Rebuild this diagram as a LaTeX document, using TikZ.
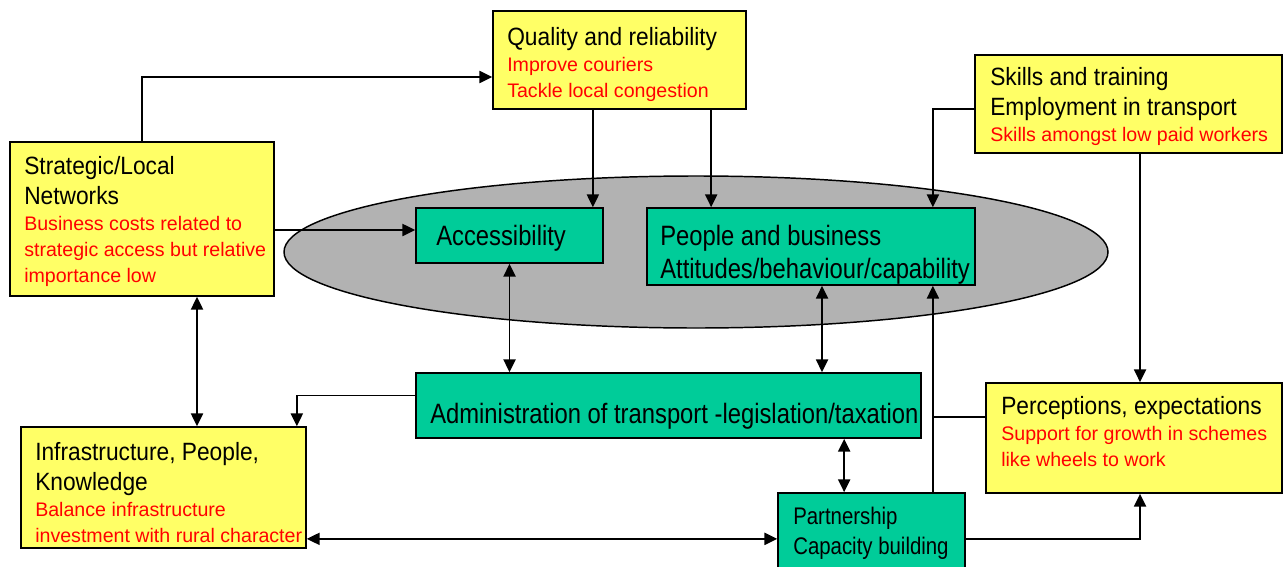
\documentclass[tikz,border=0pt]{standalone}
\usepackage{fontspec}
\setmainfont{Liberation Sans}
\newfontfamily\headfont{Liberation Sans}[FakeStretch=0.91]
\newfontfamily\cellfont{Liberation Sans}[FakeStretch=0.85]
\definecolor{boxyellow}{RGB}{255,255,102}
\definecolor{boxgreen}{RGB}{0,204,153}
\definecolor{hubgray}{RGB}{178,178,178}
\definecolor{notered}{RGB}{255,0,0}
\usetikzlibrary{arrows.meta,positioning,calc,shapes.geometric}
\newcommand\headtxt{\headfont\fontsize{18.75pt}{22.5pt}\selectfont}
\newcommand\notetxt{\normalfont\color{notered}\fontsize{14.7pt}{19.5pt}\selectfont}
\newcommand\celltxt{\cellfont\fontsize{21pt}{24.75pt}\selectfont}
\newcommand\smalltxt{\cellfont\fontsize{18pt}{22.5pt}\selectfont}
\tikzset{
  boxsize/.style 2 args={minimum width=#1*0.75pt,minimum height=#2*0.75pt},
  ybox/.style={draw,line width=1.3pt,fill=boxyellow,inner sep=0pt},
  gbox/.style={draw,line width=1.3pt,fill=boxgreen,inner sep=0pt},
  hub/.style={ellipse,draw,line width=1.1pt,fill=hubgray,inner sep=0pt},
  txt/.style={inner sep=0pt,align=left,anchor=north west,font=\headtxt},
  conn/.style={-{Triangle[length=9.5pt,width=9pt]},line width=1.4pt},
  dconn/.style={{Triangle[length=9.5pt,width=9pt]}-{Triangle[length=9.5pt,width=9pt]},line width=1.4pt},
  link/.style={line width=1.4pt},
}
\begin{document}
\begin{tikzpicture}[x=0.75pt,y=-0.75pt]
  \useasboundingbox (0,0) rectangle (1284,567);
  % central ellipse
  \node[hub,boxsize={824}{152}] (core) at (696,252) {};
  % yellow boxes
  \node[ybox,boxsize={253}{98}]  (qual)   at (619.5,60)   {};
  \node[ybox,boxsize={264}{154}] (strat)  at (142,219)    {};
  \node[ybox,boxsize={307}{98}]  (skills) at (1128.5,104) {};
  \node[ybox,boxsize={285}{121}] (infra)  at (163.5,487.5) {};
  \node[ybox,boxsize={296}{110}] (perc)   at (1134,438)   {};
  % green boxes
  \node[gbox,boxsize={187}{55}]  (acc)  at (509.5,235.5) {};
  \node[gbox,boxsize={328}{77}]  (ppl)  at (811,246.5)   {};
  \node[gbox,boxsize={505}{65}]  (adm)  at (668.5,405.5) {};
  \node[gbox,boxsize={187}{92}]  (part) at (871.5,539)   {};

  % texts
  \node[txt] (qualtxt) at (507,27) {\headtxt Quality and reliability\\[-3pt]
    \notetxt Improve couriers\\[-3pt] \notetxt Tackle local congestion};
  \node[txt] (strattxt) at (24,156) {\headtxt Strategic/Local\\ \headtxt Networks\\[-3pt]
    \notetxt Business costs related to\\[-3pt] \notetxt strategic access but relative\\[-3pt]
    \notetxt importance low};
  \node[txt] (skillstxt) at (990,67) {\headtxt Skills and training\\
    \headtxt Employment in transport\\[-3pt] \notetxt Skills amongst low paid workers};
  \node[txt] (infratxt) at (35,442) {\headtxt Infrastructure, People,\\ \headtxt Knowledge\\[-3pt]
    \notetxt Balance infrastructure\\[-3pt] \notetxt investment with rural character};
  \node[txt] (perctxt) at (1001,396) {\headtxt Perceptions, expectations\\[-3pt]
    \notetxt Support for growth in schemes\\[-3pt] \notetxt like wheels to work};
  \node[txt,font=\celltxt] (acctxt) at (436,225) {\celltxt Accessibility};
  \node[txt,font=\celltxt] (ppltxt) at (660,225) {\celltxt People and business\\
    \celltxt Attitudes/behaviour/capability};
  \node[txt,font=\celltxt] (admtxt) at (430,403) {\celltxt Administration of transport -legislation/taxation};
  \node[txt,font=\smalltxt] (parttxt) at (793,506.5) {\smalltxt Partnership\\ \smalltxt Capacity building};

  % connector ends
  \coordinate (qualin) at ($(qual.west)+(0,17)$);
  \coordinate (accin)  at ($(acc.west)+(0,-5.5)$);
  \coordinate (acctop) at ($(acc.north east)+(-11,0)$);
  \coordinate (ppltopA) at ($(ppl.north west)+(65,0)$);
  \coordinate (ppltopB) at ($(ppl.north east)+(-43,0)$);
  \coordinate (pplbotA) at ($(ppl.south)+(11,0)$);
  \coordinate (pplbotB) at ($(ppl.south east)+(-43,0)$);
  \coordinate (perctop) at ($(perc.north)+(6,0)$);
  \coordinate (stratbot) at ($(strat.south)+(55,0)$);
  \coordinate (admout) at ($(adm.west)+(0,-10)$);
  \coordinate (infratop) at ($(infra.north east)+(-10,0)$);
  \coordinate (infraout) at ($(infra.south east)+(0,-10)$);
  \coordinate (parttop) at ($(part.north west)+(67,0)$);
  \coordinate (percout) at ($(perc.west)+(0,-21)$);

  % connectors
  \draw[conn] (strat.north) |- (qualin);
  \draw[conn] (strat.east |- accin) -- (accin);
  \draw[conn] (qual.south -| acctop) -- (acctop);
  \draw[conn] (qual.south -| ppltopA) -- (ppltopA);
  \draw[conn] ($(skills.west)+(0,5)$) -| (ppltopB);
  \draw[conn] (skills.south -| perctop) -- (perctop);
  \draw[dconn] (acc.south) -- (acc.south |- adm.north);
  \draw[dconn] (pplbotA) -- (pplbotA |- adm.north);
  \draw[dconn] (stratbot) -- (stratbot |- infra.north);
  \draw[conn] (admout) -| (infratop);
  \draw[dconn] (infraout) -- (infraout -| part.west);
  \draw[dconn] (parttop |- adm.south) -- (parttop);
  \draw[conn] (pplbotB |- part.north) -- (pplbotB);
  \draw[link] (percout) -- (percout -| pplbotB);
  \draw[conn] (part.east |- infraout) -| (perctop |- perc.south);
\end{tikzpicture}
\end{document}
